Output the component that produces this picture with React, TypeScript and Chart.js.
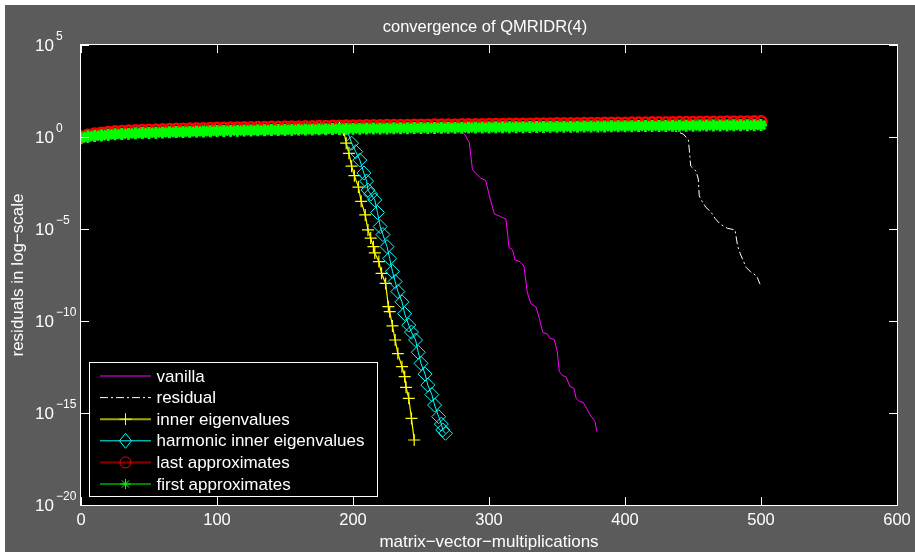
import React, { useEffect, useRef } from "react";
import { Chart, registerables } from "chart.js";

Chart.register(...registerables);

const FONT = '"Liberation Sans", Arial, Helvetica, sans-serif';

const chartTitle = "convergence of QMRIDR(4)";
const xAxisTitle = "matrix\u2212vector\u2212multiplications";
const yAxisTitle = "residuals in log\u2212scale";
const xTicks = [0, 100, 200, 300, 400, 500, 600];
const yTickExponents = [5, 0, -5, -10, -15, -20];

const seriesNames = [
  "vanilla",
  "residual",
  "inner eigenvalues",
  "harmonic inner eigenvalues",
  "last approximates",
  "first approximates",
];

// matrix-vector multiplication counter for the long "approximates" runs (every 5th)
const bandX = Array.from({ length: 101 }, (_, i) => i * 5);

const lastApprox = [
  1.0, 1.26, 1.45, 1.62, 1.78, 1.9, 2.0, 2.09, 2.19, 2.27,
  2.34, 2.4, 2.48, 2.54, 2.6, 2.66, 2.72, 2.79, 2.85, 2.92,
  2.99, 3.03, 3.07, 3.12, 3.16, 3.21, 3.25, 3.3, 3.35, 3.4,
  3.45, 3.5, 3.55, 3.6, 3.65, 3.71, 3.76, 3.81, 3.87, 3.93,
  3.98, 4.02, 4.06, 4.08, 4.12, 4.16, 4.2, 4.24, 4.27, 4.31,
  4.35, 4.39, 4.43, 4.47, 4.5, 4.54, 4.58, 4.62, 4.67, 4.7,
  4.74, 4.79, 4.83, 4.88, 4.91, 4.95, 5.0, 5.05, 5.09, 5.14,
  5.18, 5.22, 5.27, 5.32, 5.37, 5.41, 5.46, 5.51, 5.56, 5.61,
  5.65, 5.7, 5.75, 5.81, 5.86, 5.9, 5.96, 6.01, 6.07, 6.12,
  6.17, 6.22, 6.28, 6.34, 6.4, 6.44, 6.5, 6.56, 6.62, 6.68,
  6.73,
];

const firstApprox = [
  0.89, 1.05, 1.13, 1.23, 1.32, 1.41, 1.46, 1.52, 1.58, 1.63,
  1.67, 1.71, 1.77, 1.81, 1.85, 1.89, 1.93, 1.98, 2.02, 2.07,
  2.12, 2.15, 2.18, 2.21, 2.24, 2.28, 2.31, 2.34, 2.38, 2.41,
  2.45, 2.48, 2.52, 2.56, 2.59, 2.63, 2.67, 2.7, 2.75, 2.79,
  2.82, 2.85, 2.87, 2.89, 2.91, 2.94, 2.96, 2.99, 3.01, 3.04,
  3.06, 3.09, 3.12, 3.14, 3.16, 3.19, 3.21, 3.24, 3.27, 3.29,
  3.31, 3.34, 3.37, 3.4, 3.42, 3.44, 3.47, 3.5, 3.53, 3.56,
  3.58, 3.6, 3.63, 3.66, 3.69, 3.71, 3.74, 3.77, 3.8, 3.83,
  3.85, 3.88, 3.91, 3.94, 3.97, 3.99, 4.02, 4.05, 4.08, 4.11,
  4.14, 4.16, 4.19, 4.22, 4.25, 4.27, 4.3, 4.33, 4.36, 4.39,
  4.42,
];

// harmonic inner eigenvalues: first 40 samples share bandX (0..195)
const harmonicBand = [
  0.95, 1.15, 1.28, 1.41, 1.53, 1.64, 1.71, 1.78, 1.86, 1.92,
  1.98, 2.03, 2.1, 2.14, 2.19, 2.24, 2.29, 2.35, 2.4, 2.46,
  2.52, 2.55, 2.59, 2.63, 2.66, 2.71, 2.74, 2.78, 2.83, 2.87,
  2.91, 2.95, 2.99, 3.03, 3.08, 3.12, 3.17, 3.21, 3.26, 3.31,
];
const harmonicDropX = [
  199, 202, 205, 208, 210, 211, 213, 216, 218, 220, 222, 225, 227, 229, 231, 233,
  236, 238, 241, 243, 246, 248, 250, 253, 255, 258, 260, 263, 265, 266, 268,
];
const harmonicDropY = [
  4.6e-1, 1.6e-1, 5.6e-2, 1.1e-2, 4.0e-3, 1.3e-3, 7.9e-4, 3.8e-4, 7.9e-5, 1.35e-5,
  5.0e-6, 1.1e-6, 2.5e-7, 5.0e-8, 1.4e-8, 4.0e-9, 1.1e-9, 2.5e-10, 6.0e-11, 2.5e-11,
  9.3e-12, 2.0e-12, 5.0e-13, 1.3e-13, 3.3e-14, 1.0e-14, 2.7e-15, 6.3e-16, 2.5e-16,
  1.2e-16, 7.9e-17,
];

const innerX = [
  190, 193, 195, 197, 199, 201, 204, 206, 209, 211, 213, 215, 216, 219, 221, 224,
  226, 227, 229, 231, 233, 236, 238, 239, 241, 243, 245,
];
const innerY = [
  3.3, 2.5, 4.6e-1, 1.3e-1, 2.6e-2, 7.9e-3, 1.9e-3, 3.2e-4, 5.8e-5, 8.9e-6, 3.2e-6,
  1.1e-6, 5.0e-7, 1.7e-7, 3.9e-8, 1.1e-8, 6.0e-10, 3.2e-10, 5.4e-11, 9.3e-12,
  1.7e-12, 3.3e-13, 9.5e-14, 2.5e-14, 6.3e-15, 5.1e-16, 3.4e-17,
];

const vanillaX = [
  276, 279, 282, 285.5, 287.8, 290.2, 293.9, 297.6, 300.3, 303.9, 308.6, 312.5,
  314.7, 317.4, 319.1, 322.8, 325.7, 328.2, 330.7, 334.6, 337, 339.5, 342.9, 344.9,
  348, 350.2, 351.7, 354.2, 356.6, 359.6, 362.5, 364, 366.4, 369.3, 371.8, 374.3,
  376.7, 378, 379.2,
];
const vanillaY = [
  3.0, 2.24, 1.45, 0.51, 1.74e-2, 1.07e-2, 5.8e-3, 4.3e-3, 6.3e-4, 6.6e-5, 4.7e-5,
  3.4e-5, 1.0e-6, 7.2e-7, 2.1e-7, 1.66e-7, 9.8e-8, 3.5e-9, 9.1e-10, 5.6e-10,
  1.41e-10, 2.45e-11, 1.95e-11, 1.15e-11, 1.0e-11, 2.1e-12, 1.78e-13, 1.07e-13,
  9.5e-14, 2.7e-14, 2.2e-14, 6.3e-15, 4.2e-15, 3.7e-15, 1.8e-15, 7.9e-16, 4.6e-16,
  3.4e-16, 1.0e-16,
];

const residualX = [
  430, 434.3, 438, 442.9, 446.6, 447.3, 448.3, 452.2, 453.9, 454.6, 456.3, 459.6,
  463, 466.2, 469.9, 475.2, 480.9, 482.8, 484.6, 489, 492.6, 496.8, 499.3,
];
const residualY = [
  4.0, 2.4, 1.95, 1.45, 0.69, 0.195, 0.0263, 0.0141, 5.2e-3, 6.3e-4, 3.5e-4,
  1.45e-4, 8.9e-5, 3.8e-5, 1.86e-5, 1.1e-5, 8.9e-6, 1.2e-6, 4.8e-7, 8.3e-8,
  4.5e-8, 2.8e-8, 1.0e-8,
];

const COLORS = {
  vanilla: "#ff00ff",
  residual: "#ffffff",
  inner: "#ffff00",
  harmonic: "#00ffff",
  last: "#ff0000",
  first: "#00ff00",
};

function pts(xs: number[], ys: number[]) {
  return xs.map((x, i) => ({ x, y: ys[i] }));
}

const RESIDUAL_DASH = [8, 3, 2, 3];

const bgPlugin = {
  id: "matlabBackground",
  beforeDraw(chart: any) {
    const { ctx, chartArea: a, width, height } = chart;
    ctx.save();
    ctx.fillStyle = "#ffffff";
    ctx.fillRect(0, 0, width, height);
    ctx.fillStyle = "#5b5b5b";
    ctx.fillRect(5, 5, width - 5, height - 5);
    ctx.fillStyle = "#000000";
    ctx.fillRect(a.left, a.top, a.right - a.left, a.bottom - a.top);
    ctx.restore();
  },
};

function drawMarker(ctx: CanvasRenderingContext2D, kind: string, x: number, y: number, color: string) {
  ctx.save();
  ctx.strokeStyle = color;
  ctx.lineWidth = 1;
  ctx.beginPath();
  if (kind === "cross") {
    ctx.moveTo(x - 6, y);
    ctx.lineTo(x + 6, y);
    ctx.moveTo(x, y - 6);
    ctx.lineTo(x, y + 6);
  } else if (kind === "diamond") {
    ctx.moveTo(x, y - 7.5);
    ctx.lineTo(x + 6, y);
    ctx.lineTo(x, y + 7.5);
    ctx.lineTo(x - 6, y);
    ctx.closePath();
  } else if (kind === "circle") {
    ctx.arc(x, y, 5.5, 0, Math.PI * 2);
  } else if (kind === "star") {
    ctx.moveTo(x - 5, y);
    ctx.lineTo(x + 5, y);
    ctx.moveTo(x, y - 5);
    ctx.lineTo(x, y + 5);
    ctx.moveTo(x - 3.6, y - 3.6);
    ctx.lineTo(x + 3.6, y + 3.6);
    ctx.moveTo(x - 3.6, y + 3.6);
    ctx.lineTo(x + 3.6, y - 3.6);
  }
  ctx.stroke();
  ctx.restore();
}

const legendStyles = [
  { line: COLORS.vanilla, width: 1, dash: [] as number[], marker: "", markerColor: COLORS.vanilla },
  { line: COLORS.residual, width: 1, dash: RESIDUAL_DASH, marker: "", markerColor: COLORS.residual },
  { line: "#a6a600", width: 2, dash: [] as number[], marker: "cross", markerColor: COLORS.inner },
  { line: COLORS.harmonic, width: 1, dash: [] as number[], marker: "diamond", markerColor: COLORS.harmonic },
  { line: "#8a0000", width: 2, dash: [] as number[], marker: "circle", markerColor: COLORS.last },
  { line: COLORS.first, width: 1, dash: [] as number[], marker: "star", markerColor: COLORS.first },
];

const overlayPlugin = {
  id: "matlabOverlay",
  afterDatasetsDraw(chart: any) {
    const { ctx, chartArea: a } = chart;
    const xs = chart.scales.x;
    const ys = chart.scales.y;
    ctx.save();

    // axes box
    ctx.strokeStyle = "#ffffff";
    ctx.lineWidth = 1;
    ctx.setLineDash([]);
    ctx.strokeRect(a.left - 0.5, a.top - 0.5, a.right - a.left + 1, a.bottom - a.top + 1);

    // inward ticks
    ctx.beginPath();
    for (const v of xTicks) {
      const px = Math.round(xs.getPixelForValue(v)) + 0.5;
      ctx.moveTo(px, a.bottom);
      ctx.lineTo(px, a.bottom - 8);
      ctx.moveTo(px, a.top);
      ctx.lineTo(px, a.top + 8);
    }
    for (const e of yTickExponents) {
      const py = Math.round(ys.getPixelForValue(Math.pow(10, e))) + 0.5;
      ctx.moveTo(a.left, py);
      ctx.lineTo(a.left + 8, py);
      ctx.moveTo(a.right, py);
      ctx.lineTo(a.right - 8, py);
    }
    ctx.stroke();

    ctx.fillStyle = "#ffffff";
    // x tick labels
    ctx.font = `16.5px ${FONT}`;
    ctx.textAlign = "center";
    ctx.textBaseline = "middle";
    for (const v of xTicks) {
      ctx.fillText(String(v), xs.getPixelForValue(v), a.bottom + 15);
    }
    // y tick labels with superscript exponents
    for (const e of yTickExponents) {
      const py = ys.getPixelForValue(Math.pow(10, e));
      ctx.font = `17px ${FONT}`;
      ctx.textAlign = "right";
      ctx.fillText("10", 54, py + 1);
      ctx.font = `12px ${FONT}`;
      ctx.textAlign = "left";
      const expText = e < 0 ? "\u2212" + String(-e) : String(e);
      ctx.fillText(expText, 56, py - 8);
    }

    // title
    ctx.font = `16.5px ${FONT}`;
    ctx.textAlign = "center";
    ctx.fillText(chartTitle, (a.left + a.right) / 2 - 4, 27);
    // x axis title
    ctx.font = `17px ${FONT}`;
    ctx.fillText(xAxisTitle, (a.left + a.right) / 2, a.bottom + 37);
    // y axis title
    ctx.save();
    ctx.translate(18, (a.top + a.bottom) / 2);
    ctx.rotate(-Math.PI / 2);
    ctx.fillText(yAxisTitle, 0, 0);
    ctx.restore();

    // legend
    const bx = a.left + 8.5;
    const by = a.bottom - 142.5;
    const bw = 288;
    const bh = 134;
    ctx.fillStyle = "#000000";
    ctx.fillRect(bx, by, bw, bh);
    ctx.strokeStyle = "#ffffff";
    ctx.lineWidth = 1;
    ctx.strokeRect(bx, by, bw, bh);
    ctx.font = `17px ${FONT}`;
    ctx.textAlign = "left";
    ctx.textBaseline = "middle";
    seriesNames.forEach((name, i) => {
      const st = legendStyles[i];
      const ry = by + 13.5 + i * 21.6;
      ctx.save();
      ctx.strokeStyle = st.line;
      ctx.lineWidth = st.width;
      ctx.setLineDash(st.dash);
      ctx.beginPath();
      ctx.moveTo(bx + 10.5, ry);
      ctx.lineTo(bx + 61.5, ry);
      ctx.stroke();
      ctx.restore();
      if (st.marker) drawMarker(ctx, st.marker, bx + 36, ry, st.markerColor);
      ctx.fillStyle = "#ffffff";
      ctx.fillText(name, bx + 67, ry + 1);
    });

    ctx.restore();
  },
};

export default function App() {
  const ref = useRef<HTMLCanvasElement>(null);
  useEffect(() => {
    const canvas = ref.current;
    if (!canvas) return;
    const harmonicX = [...bandX.slice(0, harmonicBand.length), ...harmonicDropX];
    const harmonicY = [...harmonicBand, ...harmonicDropY];
    const chart = new Chart(canvas, {
      type: "line",
      data: {
        datasets: [
          {
            label: seriesNames[0],
            data: pts(vanillaX, vanillaY),
            borderColor: COLORS.vanilla,
            borderWidth: 1,
            pointRadius: 0,
            order: 6,
          },
          {
            label: seriesNames[1],
            data: pts(residualX, residualY),
            borderColor: COLORS.residual,
            borderWidth: 1,
            borderDash: RESIDUAL_DASH,
            pointRadius: 0,
            order: 5,
          },
          {
            label: seriesNames[2],
            data: pts(innerX, innerY),
            borderColor: COLORS.inner,
            borderWidth: 1.2,
            pointStyle: "cross",
            pointRadius: 6,
            pointBorderWidth: 1.2,
            pointBorderColor: COLORS.inner,
            pointBackgroundColor: "transparent",
            order: 4,
          },
          {
            label: seriesNames[3],
            data: pts(harmonicX, harmonicY),
            borderColor: COLORS.harmonic,
            borderWidth: 1,
            pointStyle: "rectRot",
            pointRadius: 7,
            pointBorderWidth: 1,
            pointBorderColor: COLORS.harmonic,
            pointBackgroundColor: "transparent",
            order: 3,
          },
          {
            label: seriesNames[4],
            data: pts(bandX, lastApprox),
            borderColor: COLORS.last,
            borderWidth: 1,
            pointStyle: "circle",
            pointRadius: 5.5,
            pointBorderWidth: 2.5,
            pointBorderColor: COLORS.last,
            pointBackgroundColor: "transparent",
            order: 2,
          },
          {
            label: seriesNames[5],
            data: pts(bandX, firstApprox),
            borderColor: COLORS.first,
            borderWidth: 1,
            pointStyle: "star",
            pointRadius: 6,
            pointBorderWidth: 3,
            pointBorderColor: COLORS.first,
            pointBackgroundColor: "transparent",
            order: 1,
          },
        ],
      },
      options: {
        animation: false,
        responsive: false,
        devicePixelRatio: 1,
        events: [],
        layout: { padding: { left: 81, right: 18, top: 45, bottom: 47 } },
        plugins: {
          legend: { display: false },
          title: { display: false },
          tooltip: { enabled: false },
        },
        scales: {
          x: { type: "linear", min: 0, max: 600, display: false },
          y: { type: "logarithmic", min: 1e-20, max: 1e5, display: false },
        },
      },
      plugins: [bgPlugin, overlayPlugin],
    } as any);
    return () => chart.destroy();
  }, []);

  return (
    <div style={{ position: "absolute", left: 0, top: 0, width: 915, height: 552 }}>
      <canvas ref={ref} width={915} height={552} style={{ display: "block", width: 915, height: 552 }} />
    </div>
  );
}
